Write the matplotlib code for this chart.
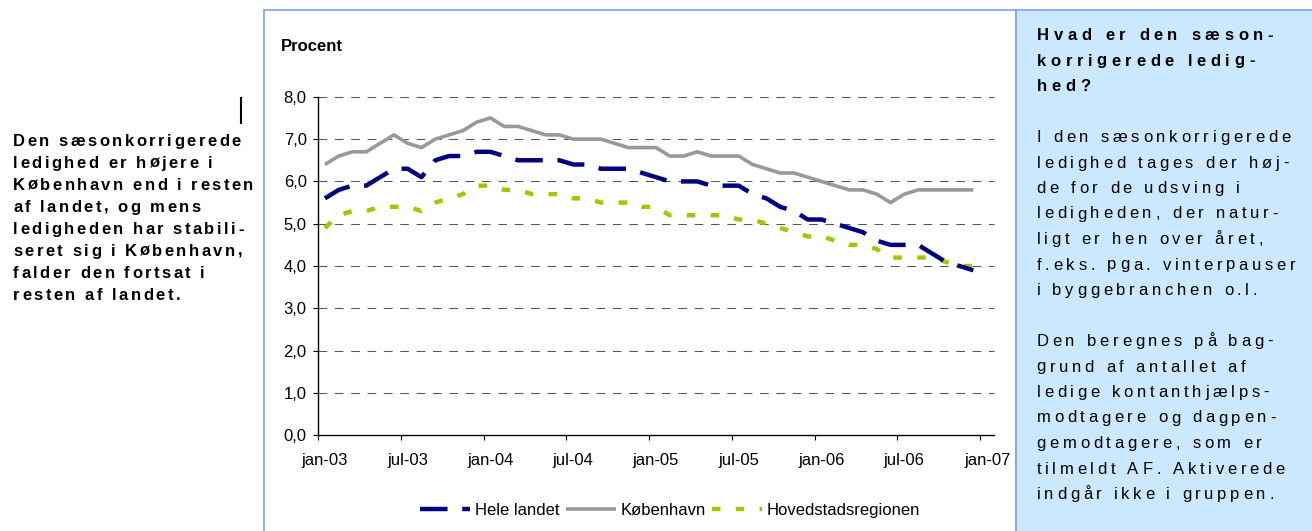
import matplotlib
matplotlib.use('Agg')
import matplotlib.pyplot as plt
from matplotlib.font_manager import FontProperties, findfont
from matplotlib.ft2font import FT2Font
from matplotlib.patches import Rectangle
from matplotlib.lines import Line2D
from matplotlib.ticker import FixedLocator, FuncFormatter, NullFormatter

# ---------------- data ----------------
tick_labels = ['jan-03', 'jul-03', 'jan-04', 'jul-04', 'jan-05', 'jul-05',
               'jan-06', 'jul-06', 'jan-07']
series_names = ['Hele landet', 'København', 'Hovedstadsregionen']

hele_landet = [5.6, 5.8, 5.9, 5.9, 6.1, 6.3, 6.3, 6.1, 6.5, 6.6, 6.6, 6.7,
               6.7, 6.6, 6.5, 6.5, 6.5, 6.5, 6.4, 6.4, 6.3, 6.3, 6.3, 6.2,
               6.1, 6.0, 6.0, 6.0, 5.9, 5.9, 5.9, 5.7, 5.6, 5.4, 5.3, 5.1,
               5.1, 5.0, 4.9, 4.8, 4.6, 4.5, 4.5, 4.5, 4.3, 4.1, 4.0, 3.9]
koebenhavn = [6.4, 6.6, 6.7, 6.7, 6.9, 7.1, 6.9, 6.8, 7.0, 7.1, 7.2, 7.4,
              7.5, 7.3, 7.3, 7.2, 7.1, 7.1, 7.0, 7.0, 7.0, 6.9, 6.8, 6.8,
              6.8, 6.6, 6.6, 6.7, 6.6, 6.6, 6.6, 6.4, 6.3, 6.2, 6.2, 6.1,
              6.0, 5.9, 5.8, 5.8, 5.7, 5.5, 5.7, 5.8, 5.8, 5.8, 5.8, 5.8]
hovedstad = [4.9, 5.2, 5.3, 5.3, 5.4, 5.4, 5.4, 5.3, 5.5, 5.6, 5.7, 5.9,
             5.9, 5.8, 5.8, 5.7, 5.7, 5.7, 5.6, 5.6, 5.5, 5.5, 5.5, 5.4,
             5.4, 5.2, 5.2, 5.2, 5.2, 5.2, 5.1, 5.1, 5.0, 4.9, 4.8, 4.7,
             4.7, 4.6, 4.5, 4.5, 4.4, 4.2, 4.2, 4.2, 4.2, 4.1, 4.0, 4.0]
months_per_label = 6

left_lines = ["Den sæsonkorrigerede", "ledighed er højere i",
              "København end i resten", "af landet, og mens",
              "ledigheden har stabili-", "seret sig i København,",
              "falder den fortsat i", "resten af landet."]
box_heading = ["Hvad er den sæson-", "korrigerede ledig-", "hed?"]
box_body = [["I den sæsonkorrigerede", "ledighed tages der høj-",
             "de for de udsving i", "ledigheden, der natur-",
             "ligt er hen over året,", "f.eks. pga. vinterpauser",
             "i byggebranchen o.l."],
            ["Den beregnes på bag-", "grund af antallet af",
             "ledige kontanthjælps-", "modtagere og dagpen-",
             "gemodtagere, som er", "tilmeldt AF. Aktiverede",
             "indgår ikke i gruppen."]]

# ---------------- figure ----------------
W, H, DPI = 1312, 531, 100
plt.rcParams['font.family'] = ['Liberation Sans', 'DejaVu Sans']
fig = plt.figure(figsize=(W / DPI, H / DPI), dpi=DPI)
fig.patch.set_facecolor('white')


def fx(px):
    return px / W


def fy(py):
    return 1 - py / H


BORDER = '#7ba4f2'
PANEL = '#cce8ff'

# chart frame and info panel
fig.add_artist(Rectangle((fx(264), fy(560)), fx(1016 - 264), (560 - 9.5) / H,
                         transform=fig.transFigure, facecolor='white',
                         edgecolor=BORDER, lw=1.2, zorder=0))
fig.add_artist(Rectangle((fx(1016), fy(560)), fx(340), (560 - 9.5) / H,
                         transform=fig.transFigure, facecolor=PANEL,
                         edgecolor=BORDER, lw=1.2, zorder=0))

# ---------------- axes ----------------
ax_l, ax_r, ax_t, ax_b = 318, 994, 96.8, 435.3
ax = fig.add_axes([fx(ax_l), fy(ax_b), (ax_r - ax_l) / W, (ax_b - ax_t) / H])
ax.set_facecolor('none')

x = list(range(len(hele_landet)))
n_cat = len(hele_landet) + 1
ax.set_xlim(-0.5, n_cat - 0.5)
ax.set_ylim(0, 8)

for yv in range(1, 9):
    ax.axhline(yv, color='#555555', lw=0.75, ls=(0, (8.3, 7.4)),
               clip_on=False, zorder=1)

ax.plot(x, hele_landet, color='#000080', lw=3.2, ls=(0, (6.2, 3.3)),
        dash_capstyle='butt', zorder=4, label=series_names[0])
ax.plot(x, koebenhavn, color='#999999', lw=2.6, solid_capstyle='butt',
        solid_joinstyle='miter', zorder=3, label=series_names[1])
ax.plot(x, hovedstad, color='#99cc00', lw=3.2, ls=(0, (1.9, 3.45)),
        dash_capstyle='butt', zorder=3, label=series_names[2])

for s in ['top', 'right']:
    ax.spines[s].set_visible(False)
for s in ['left', 'bottom']:
    ax.spines[s].set_color('black')
    ax.spines[s].set_linewidth(1.0)

label_pos = [i * months_per_label for i in range(len(tick_labels))]
ax.xaxis.set_major_locator(FixedLocator([p - 0.5 for p in label_pos]))
ax.xaxis.set_major_formatter(NullFormatter())
ax.xaxis.set_minor_locator(FixedLocator(label_pos))
ax.set_xticklabels(tick_labels, minor=True)
ax.tick_params(axis='x', which='major', direction='out', length=3.6,
               width=0.8, color='black')
ax.tick_params(axis='x', which='minor', length=0, pad=13, labelsize=12)

ax.yaxis.set_major_locator(FixedLocator(range(0, 9)))
ax.yaxis.set_major_formatter(FuncFormatter(lambda v, _: f"{v:.1f}".replace('.', ',')))
ax.tick_params(axis='y', direction='out', length=3.6, width=0.8,
               color='black', pad=4.5, labelsize=12)

fig.text(fx(281), fy(51), 'Procent', fontsize=12, fontweight='bold',
         ha='left', va='baseline')

leg = fig.legend(*ax.get_legend_handles_labels(), loc='center',
                 bbox_to_anchor=(fx(670), fy(510.7)),
                 bbox_transform=fig.transFigure, ncol=3, frameon=False,
                 fontsize=12, handlelength=3.0, handletextpad=0.28,
                 columnspacing=0.36, borderpad=0, borderaxespad=0)

# ---------------- tracked text ----------------
_font_cache = {}


def advances(text, prop):
    path = findfont(prop)
    key = (path, prop.get_size_in_points())
    if key not in _font_cache:
        f = FT2Font(path)
        f.set_size(prop.get_size_in_points(), DPI)
        _font_cache[key] = f
    f = _font_cache[key]
    out = []
    for ch in text:
        g = f.load_char(ord(ch))
        out.append(g.linearHoriAdvance / 65536)
    return out


def tracking_for(text, prop, target):
    adv = advances(text, prop)
    return (target - sum(adv)) / (len(text) - 1)


def draw_tracked(text, x0, baseline, prop, track, color='black'):
    adv = advances(text, prop)
    cx = x0
    for ch, a in zip(text, adv):
        if ch != ' ':
            fig.text(fx(cx), fy(baseline), ch, fontproperties=prop,
                     color=color, ha='left', va='baseline')
        cx += a + track


# left comment text
p_left = FontProperties(family='Liberation Sans', weight='bold', size=12)
t_left = tracking_for(left_lines[0], p_left, 228)
for k, line in enumerate(left_lines):
    draw_tracked(line, 13, 145.7 + 22 * k, p_left, t_left)

fig.add_artist(Line2D([fx(241), fx(241)], [fy(98), fy(123)],
                      transform=fig.transFigure, color='black', lw=1.5))

# info panel
p_head = FontProperties(family='Liberation Sans', weight='bold', size=12)
p_body = FontProperties(family='Liberation Sans', weight='normal', size=12)
t_head = tracking_for(box_heading[0], p_head, 236)
t_body = tracking_for(box_body[0][0], p_body, 254)
row = 0
for line in box_heading:
    draw_tracked(line, 1037, 40 + 25.5 * row, p_head, t_head)
    row += 1
for para in box_body:
    row += 1
    for line in para:
        draw_tracked(line, 1036.5, 40 + 25.5 * row, p_body, t_body)
        row += 1

fig.savefig('out.png', dpi=DPI)
